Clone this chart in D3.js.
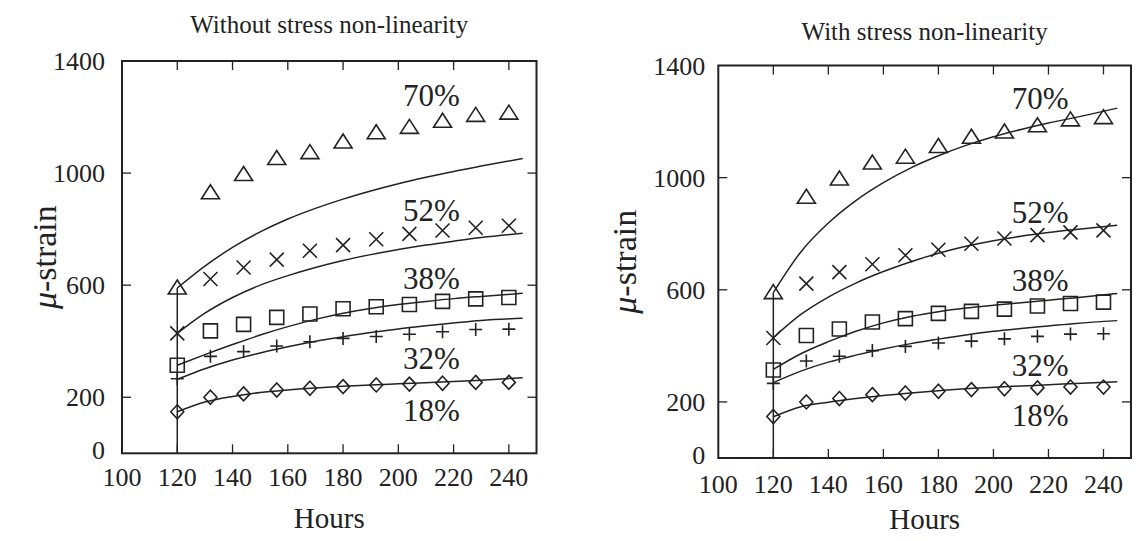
<!DOCTYPE html>
<html>
<head>
<meta charset="utf-8">
<script src="https://cdn.jsdelivr.net/npm/d3@7"></script>
<style>
  body { margin: 0; background: #fff; }
  svg text { font-family: "Liberation Serif", "DejaVu Serif", serif; fill: #222; }
</style>
</head>
<body>
<script>
// measured hours (same points in both panels)
const hours = [120, 132, 144, 156, 168, 180, 192, 204, 216, 228, 240];
const pct70 = [590, 930, 995, 1052, 1073, 1111, 1144, 1163, 1185, 1206, 1214];
const pct52 = [428, 622, 663, 691, 723, 743, 764, 783, 795, 805, 812];
const pct38 = [314, 437, 460, 485, 497, 516, 523, 531, 542, 551, 556];
const pct32 = [266, 346, 363, 383, 398, 410, 417, 425, 434, 442, 443];
const pct18 = [148, 200, 212, 226, 232, 238, 244, 247, 250, 253, 253];

// model curves
const modelHours = [120, 130, 140, 150, 160, 170, 180, 190, 200, 210, 220, 230, 245];
// without stress non-linearity
const noLin70 = [590, 668, 735, 790, 836, 874, 907, 936, 962, 985, 1006, 1025, 1052];
const noLin52 = [428, 500, 556, 600, 634, 663, 688, 709, 727, 743, 757, 770, 785];
const noLin38 = [314, 352, 388, 422, 452, 478, 500, 517, 531, 542, 552, 560, 571];
const noLin32 = [264, 302, 333, 358, 380, 400, 416, 431, 444, 455, 465, 474, 482];
const noLin18 = [148, 183, 203, 217, 226, 233, 239, 244, 248, 252, 256, 261, 270];
// with stress non-linearity
const lin70 = [590, 735, 838, 918, 982, 1035, 1078, 1115, 1146, 1172, 1195, 1215, 1248];
const lin52 = [429, 512, 574, 624, 665, 700, 730, 755, 775, 791, 804, 815, 830];
const lin38 = [316, 372, 415, 452, 482, 505, 522, 535, 545, 554, 563, 572, 587];
const lin32 = [269, 310, 342, 367, 389, 408, 424, 439, 452, 462, 471, 480, 490];
const lin18 = [147, 183, 199, 212, 223, 232, 240, 247, 252, 257, 261, 266, 272];

const seriesNames = ["70%", "52%", "38%", "32%", "18%"];
const markerTypes = ["triangle", "cross", "square", "plus", "diamond"];
const noLinLabelY = [1279, 868, 626, 340, 155];
const linLabelY = [1284, 877, 635, 332, 153];
const labelHours = [212, 217];

const yTickLabels = [0, 200, 600, 1000, 1400];
const yTickMarks = [200, 600, 1000];
const xTicks = [100, 120, 140, 160, 180, 200, 220, 240];
const xTickMarks = [120, 140, 160, 180, 200, 220, 240];

const W = 1138, H = 541;
const svg = d3.select("body").append("svg")
  .attr("width", W).attr("height", H);

const measured = [pct70, pct52, pct38, pct32, pct18];

function markerPath(type) {
  if (type == "triangle") return "M0,-8L9,6L-9,6Z";
  if (type == "square") return "M-7,-7H7V7H-7Z";
  if (type == "diamond") return "M0,-7L6.5,0L0,7L-6.5,0Z";
  if (type == "cross") return "M-7,-7L7,7M-7,7L7,-7";
  return "M-6.5,0H6.5M0,-6.5V6.5"; // plus
}

function drawPanel(p) {
  const x = d3.scaleLinear().domain([100, 250]).range([p.x0, p.x1]);
  const y = d3.scaleLinear().domain([0, 1400]).range([p.y1, p.y0]);
  const g = svg.append("g");

  // frame
  g.append("rect")
    .attr("x", p.x0).attr("y", p.y0)
    .attr("width", p.x1 - p.x0).attr("height", p.y1 - p.y0)
    .attr("fill", "none").attr("stroke", "#222").attr("stroke-width", 2);

  // inward ticks
  xTickMarks.forEach(t => {
    g.append("line").attr("x1", x(t)).attr("x2", x(t))
      .attr("y1", p.y1).attr("y2", p.y1 - 9).attr("stroke", "#222").attr("stroke-width", 1.3);
    g.append("line").attr("x1", x(t)).attr("x2", x(t))
      .attr("y1", p.y0).attr("y2", p.y0 + 9).attr("stroke", "#222").attr("stroke-width", 1.3);
  });
  yTickMarks.forEach(t => {
    g.append("line").attr("x1", p.x0).attr("x2", p.x0 + 9)
      .attr("y1", y(t)).attr("y2", y(t)).attr("stroke", "#222").attr("stroke-width", 1.3);
    g.append("line").attr("x1", p.x1).attr("x2", p.x1 - 9)
      .attr("y1", y(t)).attr("y2", y(t)).attr("stroke", "#222").attr("stroke-width", 1.3);
  });

  // tick labels
  g.selectAll(".xl").data(xTicks).enter().append("text")
    .attr("x", d => x(d)).attr("y", p.y1 + p.xLabDy)
    .attr("text-anchor", "middle").attr("font-size", 26)
    .text(d => d);
  g.selectAll(".yl").data(yTickLabels).enter().append("text")
    .attr("x", d => d == 0 ? p.x0 - p.zeroDx : p.x0 - p.yLabDx)
    .attr("y", d => d == 0 ? y(d) + 6 : y(d) + 9)
    .attr("text-anchor", "end").attr("font-size", 26)
    .text(d => d);

  // axis titles
  g.append("text").attr("x", (p.x0 + p.x1) / 2).attr("y", p.titleY)
    .attr("text-anchor", "middle").attr("font-size", 25).text(p.title);
  g.append("text").attr("x", (p.x0 + p.x1) / 2).attr("y", p.hoursY)
    .attr("text-anchor", "middle").attr("font-size", 29).text("Hours");
  g.append("text")
    .attr("transform", "translate(" + p.yTitleX + "," + ((p.y0 + p.y1) / 2) + ") rotate(-90)")
    .attr("text-anchor", "middle").attr("font-size", 34)
    .html('<tspan font-style="italic">μ</tspan>-strain');

  // vertical jump at loading time
  const tops = p.model.map(m => m[0]);
  g.append("line").attr("x1", x(modelHours[0])).attr("x2", x(modelHours[0]))
    .attr("y1", y(0)).attr("y2", y(d3.max(tops)))
    .attr("stroke", "#222").attr("stroke-width", 1.5);

  // model curves
  const line = d3.line()
    .x((d, i) => x(modelHours[i]))
    .y(d => y(d))
    .curve(d3.curveMonotoneX);
  p.model.forEach(m => {
    g.append("path").datum(m)
      .attr("fill", "none").attr("stroke", "#222").attr("stroke-width", 1.5)
      .attr("d", line);
  });

  // measured points
  measured.forEach((vals, si) => {
    g.selectAll(null).data(vals).enter().append("path")
      .attr("transform", (d, i) => "translate(" + x(hours[i]) + "," + y(d) + ")")
      .attr("d", markerPath(markerTypes[si]))
      .attr("fill", "none").attr("stroke", "#222").attr("stroke-width", 1.6);
  });

  // series labels
  g.selectAll(".sl").data(seriesNames).enter().append("text")
    .attr("x", x(p.labelHour))
    .attr("y", (d, i) => y(p.labelY[i]) + 11)
    .attr("text-anchor", "middle").attr("font-size", 31)
    .text(d => d);
}

drawPanel({
  x0: 122, x1: 536.5, y0: 61, y1: 453.3,
  title: "Without stress non-linearity", titleY: 33,
  hoursY: 528, xLabDy: 33, yTitleX: 56, yLabDx: 17, zeroDx: 17,
  model: [noLin70, noLin52, noLin38, noLin32, noLin18],
  labelY: noLinLabelY, labelHour: labelHours[0]
});
drawPanel({
  x0: 718.3, x1: 1131, y0: 65.5, y1: 458,
  title: "With stress non-linearity", titleY: 40,
  hoursY: 529, xLabDy: 35, yTitleX: 636, yLabDx: 13, zeroDx: 13,
  model: [lin70, lin52, lin38, lin32, lin18],
  labelY: linLabelY, labelHour: labelHours[1]
});
</script>
</body>
</html>
